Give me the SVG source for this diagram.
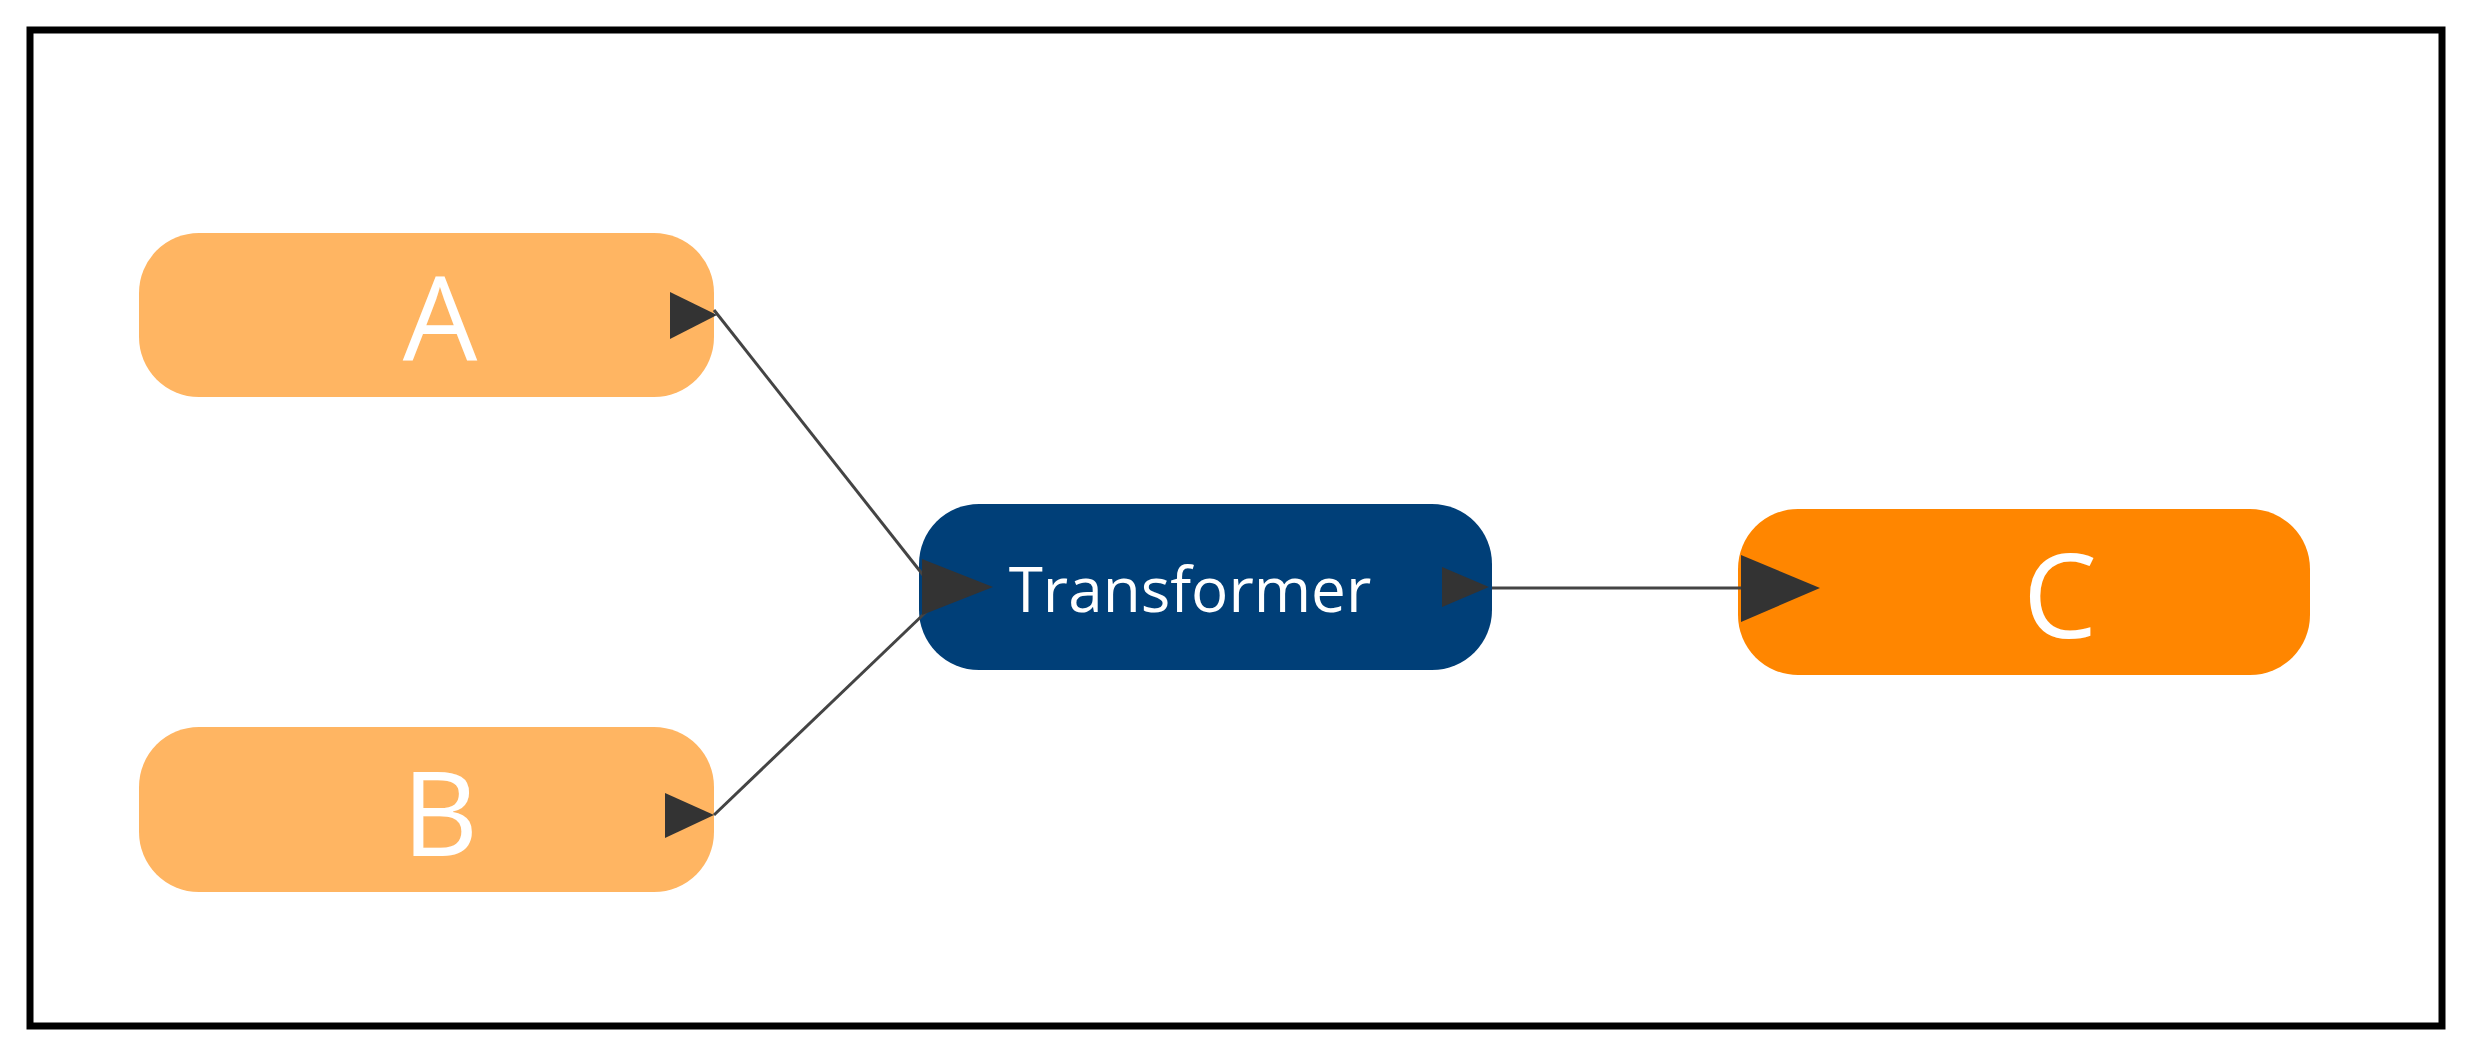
<svg xmlns="http://www.w3.org/2000/svg" width="2471" height="1052" viewBox="0 0 2471 1052">
<style>
.lbl{font-family:"Open Sans","Noto Sans",sans-serif;fill:#fff;text-anchor:middle;dominant-baseline:central}
.big{font-size:118px}
.ln{stroke:#444;stroke-width:3;fill:none}
.ah{fill:#333}
</style>
<rect x="0" y="0" width="2471" height="1052" fill="#fff"/>
<rect x="30" y="30" width="2412" height="996" fill="none" stroke="#000" stroke-width="7"/>
<g id="A"><rect x="139" y="233" width="575" height="164" rx="60" fill="#FFB562"/><text class="lbl big" x="440" y="315">A</text></g>
<g id="B"><rect x="139" y="727" width="575" height="165" rx="60" fill="#FFB562"/><text class="lbl big" x="440" y="810">B</text></g>
<g id="Transformer"><rect x="919" y="504" width="573" height="166" rx="60" fill="#003F78"/><text class="lbl" font-size="62" x="1190" y="588">Transformer</text></g>
<g id="C"><rect x="1738" y="509" width="572" height="166" rx="60" fill="#FF8600"/><text class="lbl big" x="2060" y="592">C</text></g>
<g id="connectors">
<path class="ln" d="M714 310 L927 580"/>
<path class="ln" d="M714 815 L927 611"/>
<path class="ln" d="M1492 588 L1749 588"/>
<polygon class="ah" points="670,292 717,315 670,339"/>
<polygon class="ah" points="665,793 714,815 665,838"/>
<polygon class="ah" points="922,559 993,587 922,615"/>
<polygon class="ah" points="1442,567 1489,587 1442,607"/>
<polygon class="ah" points="1741,555 1820,588 1741,622"/>
</g>
</svg>
